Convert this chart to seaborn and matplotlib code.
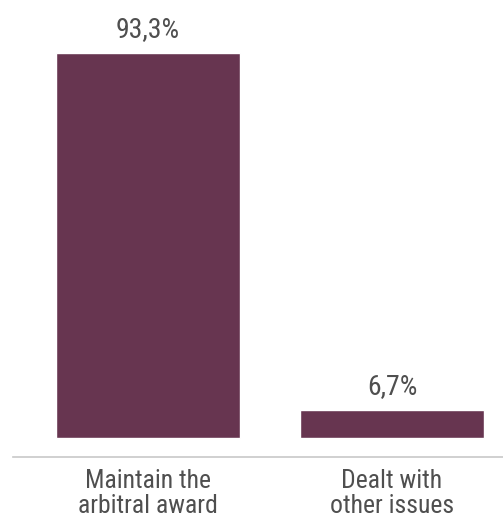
import matplotlib
matplotlib.use("Agg")
import matplotlib.pyplot as plt
import seaborn as sns
import pandas as pd

categories = ["Maintain the\narbitral award", "Dealt with\nother issues"]
values = [93.3, 6.7]
value_labels = ["93,3%", "6,7%"]

sns.set_theme(style="white")
plt.rcParams["font.family"] = ["Roboto Condensed", "Open Sans Condensed",
                               "Liberation Sans Narrow", "Roboto", "DejaVu Sans"]

bar_color = "#673550"
text_color = "#4f4f4f"

df = pd.DataFrame({"category": categories, "value": values})

fig = plt.figure(figsize=(5.03, 5.17), dpi=100)
ax = fig.add_axes([13 / 503, 60 / 517, 490 / 503, 447 / 517])

sns.barplot(data=df, x="category", y="value", color=bar_color,
            saturation=1, width=0.754, ax=ax)

for patch, lab in zip(ax.patches, value_labels):
    ax.annotate(lab, (patch.get_x() + patch.get_width() / 2, patch.get_height()),
                xytext=(0, 11.5), textcoords="offset points",
                ha="center", va="baseline", fontsize=20,
                color=text_color)

ax.set_xlim(-0.553, 1.455)
ax.set_ylim(-4.6, 103.7)
ax.set_xlabel("")
ax.set_ylabel("")
ax.set_yticks([])
for side in ["top", "right", "left"]:
    ax.spines[side].set_visible(False)
ax.spines["bottom"].set_color("#c8c8c8")
ax.spines["bottom"].set_linewidth(1.2)
ax.tick_params(axis="x", length=0, pad=9, labelsize=18.5, labelcolor=text_color)
for t in ax.get_xticklabels():
    t.set_linespacing(1.05)

fig.savefig("out.png", dpi=100)
